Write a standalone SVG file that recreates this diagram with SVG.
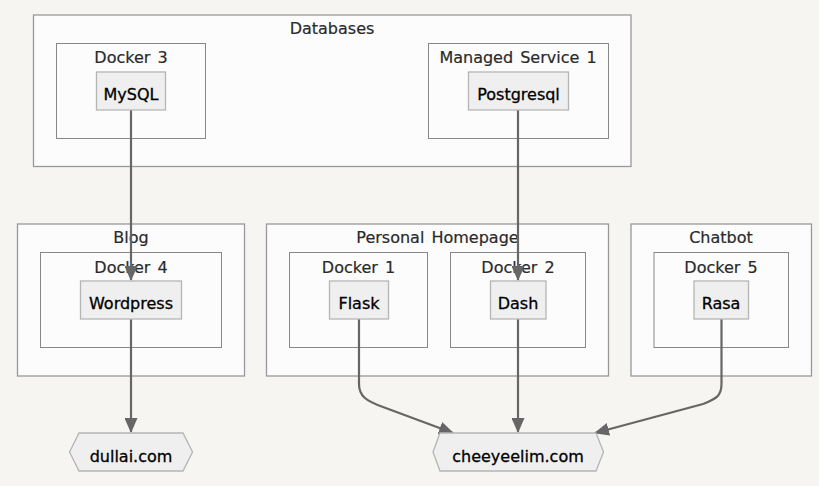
<svg xmlns="http://www.w3.org/2000/svg" width="819" height="486" viewBox="0 0 819 486">
<style>
.cl{fill:#fcfcfc;stroke:#999;stroke-width:1.3}
.cl2{fill:#fcfcfc;stroke:#888;stroke-width:1}
.nd{fill:#efefef;stroke:#b5b5b5;stroke-width:1.3}
.lb{font-family:"DejaVu Sans",sans-serif;font-size:16px;fill:#2a2a2a;stroke:#2a2a2a;stroke-width:0.2;text-anchor:middle;word-spacing:2px}
.nt{font-family:"DejaVu Sans",sans-serif;font-size:16px;fill:#000;stroke:#000;stroke-width:0.3;text-anchor:middle}
.ed{fill:none;stroke:#666;stroke-width:2.2}
</style>
<defs>
<marker id="ah" markerWidth="15" markerHeight="13" refX="14" refY="6.5" orient="auto" markerUnits="userSpaceOnUse">
<path d="M0,0 L15,6.5 L0,13 z" fill="#666"/>
</marker>
</defs>
<rect width="819" height="486" fill="#f6f5f2"/>
<g id="databases">
<rect class="cl" x="33.5" y="15" width="597.5" height="151.5"/>
<text class="lb" x="332" y="34">Databases</text>
</g>
<g id="docker3">
<rect class="cl2" x="56.5" y="43.5" width="149" height="95"/>
<text class="lb" x="131" y="63">Docker 3</text>
</g>
<g id="managed1">
<rect class="cl2" x="428.5" y="43.5" width="180" height="95"/>
<text class="lb" x="518" y="63">Managed Service 1</text>
</g>
<g id="blog">
<rect class="cl" x="17.5" y="224" width="227" height="152"/>
<text class="lb" x="131" y="243">Blog</text>
</g>
<g id="docker4">
<rect class="cl2" x="40.5" y="252.5" width="181" height="95"/>
<text class="lb" x="131" y="272.5">Docker 4</text>
</g>
<g id="homepage">
<rect class="cl" x="266.5" y="224" width="342" height="152"/>
<text class="lb" x="437.5" y="243">Personal Homepage</text>
</g>
<g id="docker1">
<rect class="cl2" x="289.5" y="252.5" width="138" height="95"/>
<text class="lb" x="358.5" y="272.5">Docker 1</text>
</g>
<g id="docker2">
<rect class="cl2" x="450.5" y="252.5" width="135" height="95"/>
<text class="lb" x="518" y="272.5">Docker 2</text>
</g>
<g id="chatbot">
<rect class="cl" x="631" y="224" width="180.5" height="152"/>
<text class="lb" x="721" y="243">Chatbot</text>
</g>
<g id="docker5">
<rect class="cl2" x="654" y="252.5" width="134.5" height="95"/>
<text class="lb" x="721" y="272.5">Docker 5</text>
</g>
<g id="edges">
<path class="ed" d="M131,110 L131,280" marker-end="url(#ah)"/>
<path class="ed" d="M518,110 L518,280" marker-end="url(#ah)"/>
<path class="ed" d="M131,319 L131,432" marker-end="url(#ah)"/>
<path class="ed" d="M518,319 L518,432" marker-end="url(#ah)"/>
<path class="ed" d="M359,319 L359,384 C359,396 366,401 383,407 L453,433" marker-end="url(#ah)"/>
<path class="ed" d="M721.5,319 L721.5,384 C721.5,396 716,399 703,404 L595,433" marker-end="url(#ah)"/>
</g>
<g id="mysql">
<rect class="nd" x="96.5" y="72" width="69" height="38"/>
<text class="nt" x="131" y="100">MySQL</text>
</g>
<g id="postgresql">
<rect class="nd" x="468.5" y="72" width="100" height="38"/>
<text class="nt" x="518.5" y="100">Postgresql</text>
</g>
<g id="wordpress">
<rect class="nd" x="80.5" y="281" width="101" height="38"/>
<text class="nt" x="131" y="309">Wordpress</text>
</g>
<g id="flask">
<rect class="nd" x="329.5" y="281" width="59" height="38"/>
<text class="nt" x="359" y="309">Flask</text>
</g>
<g id="dash">
<rect class="nd" x="490.5" y="281" width="55.5" height="38"/>
<text class="nt" x="518" y="309">Dash</text>
</g>
<g id="rasa">
<rect class="nd" x="694" y="281" width="54.5" height="38"/>
<text class="nt" x="721" y="309">Rasa</text>
</g>
<g id="dullai">
<polygon class="nd" points="69.5,452 79,433 183,433 192.5,452 183,471 79,471"/>
<text class="nt" x="131" y="461.5">dullai.com</text>
</g>
<g id="cheeyeelim">
<polygon class="nd" points="433,452 440,433 596,433 603.5,452 596,471 440,471"/>
<text class="nt" x="518" y="461.5">cheeyeelim.com</text>
</g>
</svg>
